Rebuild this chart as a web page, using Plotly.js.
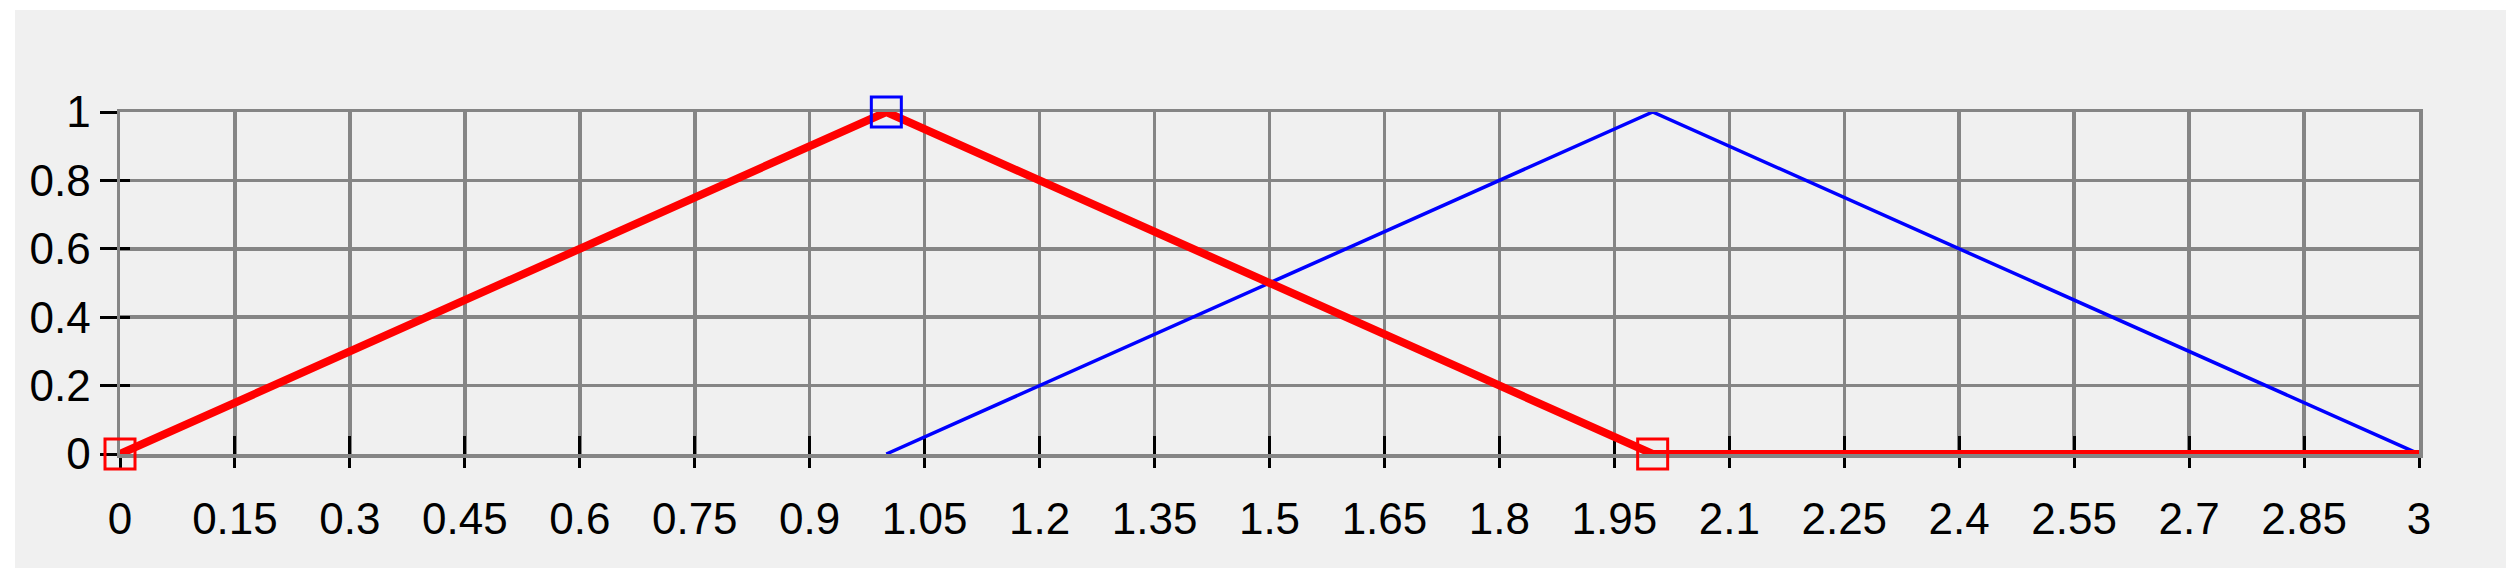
<!DOCTYPE html>
<html>
<head>
<meta charset="utf-8">
<script src="https://cdn.plot.ly/plotly-3.0.1.min.js"></script>
<style>
    body { margin: 0; background: #ffffff; }
    #graph { position: absolute; left: 15px; top: 10px; width: 2491px; height: 558px; }
</style>
</head>
<body>
<div id="graph"></div>
<script>

// membership functions
let redX = [0, 1, 2, 3];
let redY = [0, 1, 0, 0];
let blueX = [1, 2, 3];
let blueY = [0, 1, 0];

// break points (square handles)
let redPointX = [0, 2];
let redPointY = [0, 0];
let bluePointX = [1];
let bluePointY = [1];

// ticks
let xTickVals = [0, 0.15, 0.3, 0.45, 0.6, 0.75, 0.9, 1.05, 1.2, 1.35, 1.5, 1.65, 1.8, 1.95, 2.1, 2.25, 2.4, 2.55, 2.7, 2.85, 3];
let xTickText = ["0", "0.15", "0.3", "0.45", "0.6", "0.75", "0.9", "1.05", "1.2", "1.35", "1.5", "1.65", "1.8", "1.95", "2.1", "2.25", "2.4", "2.55", "2.7", "2.85", "3"];
let yTickVals = [0, 0.2, 0.4, 0.6, 0.8, 1];
let yTickText = ["0", "0.2", "0.4", "0.6", "0.8", "1"];

function makePlot() {

    let traceBlue = {
        x: blueX,
        y: blueY,
        mode: "lines",
        type: "scatter",
        cliponaxis: false,
        line: { color: "#0000ff", width: 3.5 },
        hoverinfo: "skip"
    };

    let traceRed = {
        x: redX,
        y: redY,
        mode: "lines",
        type: "scatter",
        cliponaxis: false,
        line: { color: "#ff0000", width: 8 },
        hoverinfo: "skip"
    };

    let traceRedPts = {
        x: redPointX,
        y: redPointY,
        mode: "markers",
        type: "scatter",
        cliponaxis: false,
        marker: { symbol: "square-open", size: 30, color: "#ff0000", line: { color: "#ff0000", width: 3 } }
    };

    let traceBluePts = {
        x: bluePointX,
        y: bluePointY,
        mode: "markers",
        type: "scatter",
        cliponaxis: false,
        marker: { symbol: "square-open", size: 30, color: "#0000ff", line: { color: "#0000ff", width: 3 } }
    };

    // empty trace so the overlay axes get drawn
    let traceDummy = {
        x: [0],
        y: [0],
        xaxis: "x2",
        yaxis: "y2",
        mode: "markers",
        type: "scatter",
        marker: { opacity: 0 },
        hoverinfo: "skip"
    };

    let gray = "#858585";

    let layout = {
        showlegend: false,
        paper_bgcolor: "#f0f0f0",
        plot_bgcolor: "#f0f0f0",
        margin: { l: 105, r: 87, t: 102, b: 114 },
        font: { family: "Liberation Sans, Arial, sans-serif", size: 44, color: "#000000" },

        xaxis: {
            range: [0, 3],
            tickmode: "array",
            tickvals: xTickVals,
            ticktext: xTickText,
            ticks: "outside",
            ticklen: 10,
            tickwidth: 3,
            tickcolor: "#000000",
            ticklabelstandoff: 14,
            showgrid: true,
            gridcolor: gray,
            gridwidth: 3.5,
            zeroline: false,
            showline: true,
            mirror: true,
            linecolor: gray,
            linewidth: 3.5,
            layer: "below traces",
            fixedrange: true
        },

        yaxis: {
            range: [0, 1],
            tickmode: "array",
            tickvals: yTickVals,
            ticktext: yTickText,
            ticks: "outside",
            ticklen: 17,
            tickwidth: 3,
            tickcolor: "#000000",
            showgrid: true,
            gridcolor: gray,
            gridwidth: 3.5,
            zeroline: false,
            showline: true,
            mirror: true,
            linecolor: gray,
            linewidth: 3.5,
            layer: "below traces",
            fixedrange: true
        },

        // inside part of the ticks
        xaxis2: {
            overlaying: "x",
            range: [0, 3],
            tickmode: "array",
            tickvals: xTickVals,
            ticks: "inside",
            ticklen: 18,
            tickwidth: 3,
            tickcolor: "#000000",
            showticklabels: false,
            showgrid: false,
            zeroline: false,
            layer: "below traces",
            fixedrange: true
        },

        yaxis2: {
            overlaying: "y",
            range: [0, 1],
            tickmode: "array",
            tickvals: yTickVals,
            ticks: "inside",
            ticklen: 10,
            tickwidth: 3,
            tickcolor: "#000000",
            showticklabels: false,
            showgrid: false,
            zeroline: false,
            layer: "below traces",
            fixedrange: true
        }
    };

    Plotly.newPlot("graph", [traceDummy, traceBlue, traceRed, traceRedPts, traceBluePts], layout, { displayModeBar: false, staticPlot: true });
}

makePlot();

</script>
</body>
</html>
